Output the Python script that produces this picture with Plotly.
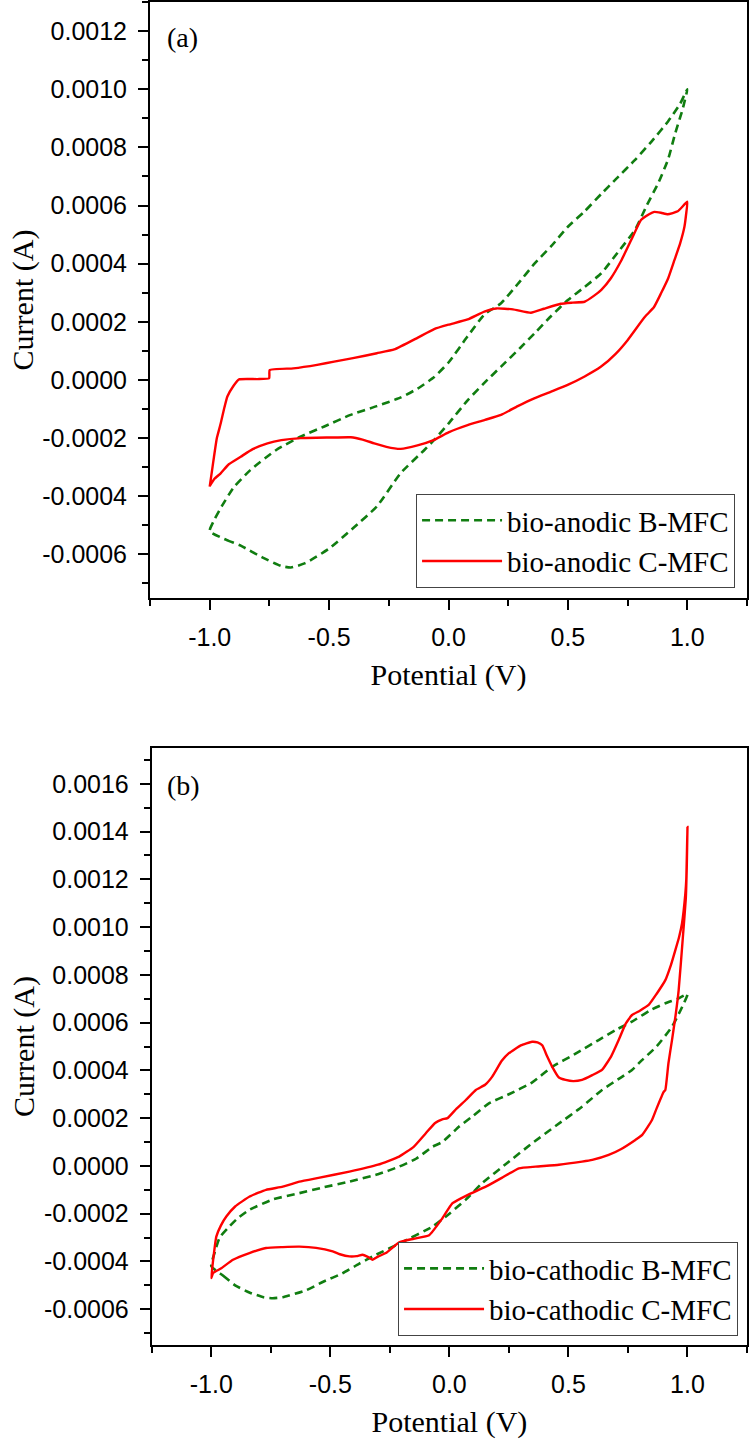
import plotly.graph_objects as go

# ---------------- data (panel a: bio-anodic) ----------------
a_B_x = [-1.0, -0.93, -0.87, -0.78, -0.7, -0.66, -0.6, -0.5, -0.4, -0.3, -0.2, -0.1, -0.06, 0.0,
         0.08, 0.15, 0.22, 0.3, 0.36, 0.43, 0.5, 0.57, 0.64, 0.71, 0.78, 0.83, 0.88, 0.92, 0.95, 0.98, 1.0,
         0.97, 0.92, 0.85, 0.78, 0.7, 0.64, 0.57, 0.5, 0.43, 0.36, 0.29, 0.22, 0.15, 0.08, 0.0, -0.06,
         -0.13, -0.2, -0.3, -0.41, -0.52, -0.62, -0.72, -0.83, -0.9, -0.95, -0.98, -1.0]
a_B_y = [-0.00052, -0.00055, -0.00057, -0.00061, -0.00064, -0.000645, -0.00063, -0.00058, -0.00051,
         -0.000435, -0.00032, -0.00024, -0.000206, -0.00015, -0.00007, -0.00001, 0.000046, 0.00011,
         0.00016, 0.00022, 0.000275, 0.00032, 0.000367, 0.00044, 0.000515, 0.0006, 0.00068, 0.00076,
         0.00085, 0.00093, 0.001,
         0.00095, 0.00089, 0.00082, 0.000756, 0.00069, 0.00064, 0.00058, 0.000527, 0.00046, 0.0004,
         0.00033, 0.000264, 0.000225, 0.00015, 0.00006, 0.00001,
         -0.00003, -0.00006, -0.00009, -0.00012, -0.00016, -0.000195, -0.00024, -0.00031, -0.00037,
         -0.000435, -0.00048, -0.00052]

a_C_x = [-1.0, -0.99, -0.982, -0.97, -0.954, -0.94, -0.926, -0.9, -0.877, -0.8, -0.751, -0.749, -0.65,
         -0.55, -0.479, -0.4, -0.3, -0.227, -0.13, -0.06, 0.0, 0.08, 0.15, 0.2, 0.27, 0.345, 0.4, 0.47,
         0.52, 0.57, 0.61, 0.64, 0.68, 0.723, 0.77, 0.806, 0.84, 0.862, 0.89, 0.918, 0.96, 1.0,
         0.995, 0.988, 0.97, 0.946, 0.92, 0.89, 0.86, 0.82, 0.75, 0.7, 0.639, 0.57, 0.499, 0.43, 0.359,
         0.29, 0.22, 0.15, 0.08, 0.0, -0.06, -0.13, -0.2, -0.26, -0.311, -0.36, -0.409, -0.5, -0.619,
         -0.7, -0.758, -0.82, -0.87, -0.92, -0.954, -0.98, -1.0]
a_C_y = [-0.000367, -0.00031, -0.000264, -0.0002, -0.00015, -0.0001, -0.000057, -0.00002, 0.000002,
         0.000003, 0.000006, 0.000034, 0.00004, 0.000052, 0.000063, 0.000075, 0.000092, 0.000105,
         0.000145, 0.000175, 0.00019, 0.000208, 0.000235, 0.000246, 0.000243, 0.000231, 0.000245,
         0.000262, 0.000266, 0.000269, 0.00029, 0.00031, 0.00035, 0.00041, 0.00049, 0.00055, 0.00057,
         0.000578, 0.000575, 0.00057, 0.00058, 0.000613,
         0.00057, 0.000527, 0.00047, 0.000412, 0.00035, 0.000298, 0.00025, 0.000215, 0.000137, 0.00009,
         0.000046, 0.000012, -0.000017, -0.00004, -0.000063, -0.00009, -0.00012, -0.000138, -0.000155,
         -0.00018, -0.000206, -0.000225, -0.000237, -0.00023, -0.000218, -0.000205, -0.000197,
         -0.000198, -0.0002, -0.000207, -0.000218, -0.000238, -0.000264, -0.00029, -0.000321,
         -0.00034, -0.000365]

# ---------------- data (panel b: bio-cathodic) ----------------
b_B_x = [-1.0, -0.95, -0.9, -0.84, -0.78, -0.742, -0.7, -0.6, -0.53, -0.45, -0.38, -0.308, -0.2,
         -0.071, 0.0, 0.07, 0.138, 0.24, 0.348, 0.45, 0.557, 0.641, 0.72, 0.767, 0.809, 0.87, 0.935,
         0.97, 1.0,
         0.96, 0.907, 0.84, 0.767, 0.7, 0.627, 0.53, 0.432, 0.348, 0.25, 0.166, 0.1, 0.04, -0.03,
         -0.071, -0.14, -0.211, -0.3, -0.42, -0.53, -0.63, -0.74, -0.84, -0.89, -0.93, -0.965, -0.985,
         -1.0]
b_B_y = [-0.00042, -0.00046, -0.0005, -0.00053, -0.00055, -0.000554, -0.00055, -0.00052, -0.000485,
         -0.00045, -0.00041, -0.000372, -0.00032, -0.000254, -0.0002, -0.00014, -0.000072, 0.00001,
         0.000095, 0.00017, 0.000248, 0.000318, 0.00037, 0.000402, 0.000443, 0.0005, 0.000583, 0.00065,
         0.00072,
         0.0007, 0.000681, 0.00065, 0.000604, 0.00057, 0.000527, 0.00047, 0.000415, 0.00035, 0.0003,
         0.000262, 0.00021, 0.000164, 0.0001, 0.00008, 0.00003, -0.000003, -0.000035, -0.000066,
         -0.00009, -0.000114, -0.00014, -0.000184, -0.00022, -0.00026, -0.0003, -0.00036, -0.00042]

b_C_x = [-1.0, -0.993, -0.979, -0.96, -0.937, -0.9, -0.839, -0.77, -0.7, -0.63, -0.55, -0.42, -0.3,
         -0.211, -0.15, -0.099, -0.06, -0.03, -0.008, 0.03, 0.069, 0.111, 0.15, 0.18, 0.22, 0.25, 0.3,
         0.347, 0.37, 0.39, 0.41, 0.432, 0.46, 0.488, 0.52, 0.557, 0.6, 0.641, 0.68, 0.711, 0.74,
         0.767, 0.8, 0.837, 0.87, 0.907, 0.93, 0.949, 0.965, 0.977, 0.991, 0.995, 1.0,
         0.997, 0.993, 0.98, 0.963, 0.95, 0.935, 0.92, 0.907, 0.9, 0.87, 0.851, 0.81, 0.781, 0.72,
         0.669, 0.6, 0.557, 0.46, 0.362, 0.292, 0.22, 0.153, 0.08, 0.013, -0.03, -0.085, -0.15,
         -0.211, -0.267, -0.3, -0.323, -0.345, -0.365, -0.39, -0.42, -0.46, -0.49, -0.56, -0.63, -0.7,
         -0.77, -0.84, -0.909, -0.96, -0.993, -1.0]
b_C_y = [-0.00047, -0.0004, -0.000296, -0.00025, -0.000212, -0.00017, -0.000128, -0.0001, -0.000087,
         -0.000066, -0.00005, -0.000024, 0.000005, 0.000039, 0.00008, 0.000137, 0.00018, 0.000195,
         0.0002, 0.00024, 0.000276, 0.000318, 0.00034, 0.000374, 0.00044, 0.000472, 0.000505, 0.00052,
         0.000517, 0.000505, 0.00046, 0.000415, 0.00037, 0.00036, 0.000355, 0.00036, 0.00038, 0.000402,
         0.00046, 0.000527, 0.000595, 0.000632, 0.00065, 0.000674, 0.00072, 0.000778, 0.00084,
         0.000904, 0.00096, 0.001015, 0.00114, 0.0012, 0.00142,
         0.00125, 0.00112, 0.00095, 0.000736, 0.00063, 0.000527, 0.00043, 0.000318, 0.00031, 0.00024,
         0.000192, 0.00013, 0.000109, 0.00007, 0.000046, 0.000025, 0.000018, 0.000005, -0.000003,
         -0.00001, -0.00005, -0.000087, -0.00012, -0.000156, -0.00022, -0.00029, -0.000305, -0.00032,
         -0.000365, -0.00038, -0.000393, -0.00038, -0.000372, -0.000378, -0.000379, -0.00037,
         -0.000358, -0.000343, -0.000338, -0.00034, -0.000344, -0.000365, -0.000393, -0.00043,
         -0.000449, -0.00047]

names_a = ["bio-anodic B-MFC", "bio-anodic C-MFC"]
names_b = ["bio-cathodic B-MFC", "bio-cathodic C-MFC"]

# tick labels (hyphen minus, as in the original)
x_tickvals = [-1.0, -0.5, 0.0, 0.5, 1.0]
x_ticktext = ["-1.0", "-0.5", "0.0", "0.5", "1.0"]
ya_tickvals = [-0.0006, -0.0004, -0.0002, 0.0, 0.0002, 0.0004, 0.0006, 0.0008, 0.0010, 0.0012]
ya_ticktext = ["-0.0006", "-0.0004", "-0.0002", "0.0000", "0.0002", "0.0004", "0.0006",
               "0.0008", "0.0010", "0.0012"]
yb_tickvals = [-0.0006, -0.0004, -0.0002, 0.0, 0.0002, 0.0004, 0.0006, 0.0008, 0.0010, 0.0012,
               0.0014, 0.0016]
yb_ticktext = ["-0.0006", "-0.0004", "-0.0002", "0.0000", "0.0002", "0.0004", "0.0006",
               "0.0008", "0.0010", "0.0012", "0.0014", "0.0016"]

GREEN = "#107d10"
RED = "#ff0000"
SERIF = "Liberation Serif, Times New Roman, serif"
SANS = "Liberation Sans, Arial, sans-serif"

fig = go.Figure()
fig.add_trace(go.Scatter(x=a_B_x, y=a_B_y, mode="lines", name=names_a[0],
                         line=dict(color=GREEN, width=2.6, dash="8px,5px", shape="spline", smoothing=0.5),
                         xaxis="x", yaxis="y", legend="legend"))
fig.add_trace(go.Scatter(x=a_C_x, y=a_C_y, mode="lines", name=names_a[1],
                         line=dict(color=RED, width=2.4, shape="spline", smoothing=0.4),
                         xaxis="x", yaxis="y", legend="legend"))
fig.add_trace(go.Scatter(x=b_B_x, y=b_B_y, mode="lines", name=names_b[0],
                         line=dict(color=GREEN, width=2.6, dash="8px,5px", shape="spline", smoothing=0.5),
                         xaxis="x2", yaxis="y2", legend="legend2"))
fig.add_trace(go.Scatter(x=b_C_x, y=b_C_y, mode="lines", name=names_b[1],
                         line=dict(color=RED, width=2.4, shape="spline", smoothing=0.4),
                         xaxis="x2", yaxis="y2", legend="legend2"))

common = dict(showline=True, linewidth=2, linecolor="black", mirror=True,
              ticks="outside", ticklen=10, tickwidth=2, tickcolor="black",
              showgrid=False, zeroline=False, automargin=False,
              tickfont=dict(family=SANS, size=25, color="black"))

xcommon = dict(common, range=[-1.25, 1.25], tickmode="array", tickvals=x_tickvals,
               ticktext=x_ticktext, ticklabelstandoff=6,
               minor=dict(ticks="outside", ticklen=6, tickwidth=2, dtick=0.25, tick0=0, tickcolor="black"),
               title=dict(text="Potential (V)", font=dict(family=SERIF, size=30, color="black"), standoff=14))
ycommon = dict(common, tickmode="array", ticklabelstandoff=6,
               minor=dict(ticks="outside", ticklen=6, tickwidth=2, dtick=0.0001, tick0=0, tickcolor="black"),
               title=dict(text="Current (A)", font=dict(family=SERIF, size=30, color="black"), standoff=0))

top_dom = [0.5562, 1.0]
bot_dom = [0.0, 0.4445]

legend_common = dict(xanchor="right", yanchor="bottom", bordercolor="#444", borderwidth=1,
                     bgcolor="white", font=dict(family=SERIF, size=29, color="black"),
                     itemwidth=80, tracegroupgap=0)

fig.update_layout(
    width=750, height=1447,
    margin=dict(l=150, r=3, t=2, b=102, autoexpand=False),
    paper_bgcolor="white", plot_bgcolor="white",
    xaxis=dict(xcommon, domain=[0, 1], anchor="y"),
    yaxis=dict(ycommon, domain=top_dom, range=[-0.00075, 0.0013], anchor="x",
               tickvals=ya_tickvals, ticktext=ya_ticktext),
    xaxis2=dict(xcommon, domain=[0.003, 1], anchor="y2"),
    yaxis2=dict(ycommon, domain=bot_dom, range=[-0.00075, 0.00175], anchor="x2",
                tickvals=yb_tickvals, ticktext=yb_ticktext),
    legend=dict(legend_common, x=0.98, y=0.5637),
    legend2=dict(legend_common, x=0.985, y=0.0067),
    annotations=[
        dict(text="(a)", x=0.025, y=0.9866, xref="paper", yref="paper", xanchor="left",
             yanchor="top", showarrow=False, font=dict(family=SERIF, size=28, color="black")),
        dict(text="(b)", x=0.025, y=0.43, xref="paper", yref="paper", xanchor="left",
             yanchor="top", showarrow=False, font=dict(family=SERIF, size=28, color="black")),
    ],
)

fig.write_html("out.html", config={"displayModeBar": False},
               post_script="document.body.style.margin='0';")
